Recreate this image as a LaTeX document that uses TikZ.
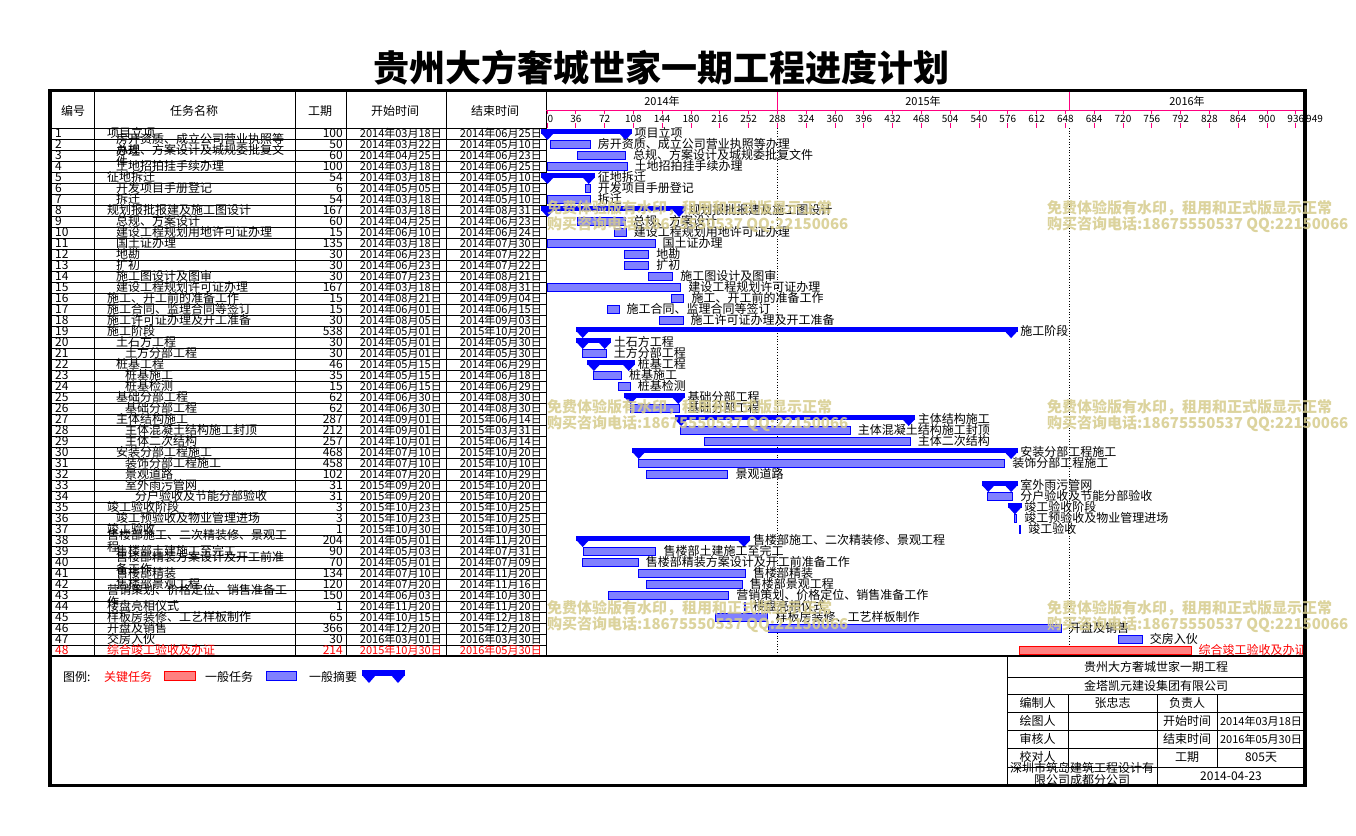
\documentclass[tikz,border=0pt]{standalone}
\usepackage{fontspec}
\setmainfont{Noto Sans CJK SC}
\definecolor{gblue}{RGB}{0,0,255}
\definecolor{gfill}{RGB}{128,128,255}
\definecolor{rfill}{RGB}{255,128,128}
\definecolor{pinkl}{RGB}{255,0,128}
\definecolor{wmark}{RGB}{214,204,140}
\tikzset{
  txt/.style={inner sep=0pt, font=\fontsize{12}{12}\selectfont},
  dtxt/.style={inner sep=0pt, font=\fontsize{11}{11}\selectfont},
  stxt/.style={inner sep=0pt, font=\fontsize{10}{10}\selectfont},
  taskbar/.style={draw=gblue, fill=gfill, line width=0.8pt},
  critbar/.style={draw=red, fill=rfill, line width=0.8pt},
  sumbar/.style={fill=gblue},
  gridline/.style={black, line width=0.7pt},
  frameline/.style={black, line width=3.5pt},
  pinkline/.style={pinkl, line width=0.8pt},
  wm/.style={text=wmark, font=\fontsize{15}{15}\selectfont\bfseries, inner sep=0pt, anchor=west, opacity=0.85},
}
\newcommand\ganttrow[9]{%
  \pgfmathsetmacro\yb{128+11*#1}%
  \pgfmathsetmacro\yt{\yb-11}%
  \pgfmathsetmacro\xs{547+0.8*#9}%
  \pgfmathsetmacro\xe{\xs+0.8*#5}%
  \def\gtype{#8}\def\gcrit{C}\def\gsum{S}%
  \ifx\gtype\gcrit\def\tcol{red}\else\def\tcol{black}\fi
  \node[txt, anchor=base west, text=\tcol] (no#1) at (55,\yb-1.5) {#1};
  \if\relax\detokenize{#4}\relax
    \node[txt, anchor=base west, text=\tcol] (nm#1) at (#2,\yb-1.5) {#3};
  \else
    \node[txt, anchor=base west, text=\tcol] (nm#1) at (#2,\yb-6.5) {#3};
    \node[txt, anchor=base west, text=\tcol] (nb#1) at (#2,\yb+5) {#4};
  \fi
  \node[txt, anchor=base east, text=\tcol] (du#1) at (343,\yb-1.5) {#5};
  \node[dtxt, anchor=base east, text=\tcol] (sd#1) at (442,\yb-1.5) {#6};
  \node[dtxt, anchor=base east, text=\tcol] (ed#1) at (542,\yb-1.5) {#7};
  \ifx\gtype\gsum
    \fill[sumbar] (\xs-6,\yt+1) rectangle (\xe+5,\yt+5.5);
    \fill[sumbar] (\xs-6,\yt+5) -- (\xs+7,\yt+5) -- (\xs+0.5,\yt+12) -- cycle;
    \fill[sumbar] (\xe-8,\yt+5) -- (\xe+5,\yt+5) -- (\xe-1.5,\yt+12) -- cycle;
  \else
    \ifx\gtype\gcrit
      \draw[critbar] (\xs,\yt+1.5) rectangle (\xe,\yb-1.5);
    \else
      \draw[taskbar] (\xs,\yt+1.5) rectangle (\xe,\yb-1.5);
    \fi
  \fi
  \node[txt, anchor=base west, text=\tcol] (lb#1) at (\xe+7.5,\yb-1.5) {#3#4};
}
\begin{document}
\begin{tikzpicture}[x=1pt,y=-1pt]
\useasboundingbox (0,0) rectangle (1356,835);
\fill[white] (0,0) rectangle (1356,835);
% title
\node[inner sep=0pt, font=\fontsize{36}{36}\selectfont\bfseries] (title) at (661,68) {贵州大方奢城世家一期工程进度计划};
% table grid
\foreach \i in {1,...,47} {\pgfmathsetmacro\ry{128+11*\i}\draw[gridline] (50,\ry) -- (546,\ry);}
\draw[gridline] (50,128) -- (546,128);
\foreach \cx in {94,295,346,446,546} {\draw[gridline] (\cx,91) -- (\cx,656);}
% header texts
\node[txt] (h1) at (73,111) {编号};
\node[txt] (h2) at (194,111) {任务名称};
\node[txt] (h3) at (320,111) {工期};
\node[txt] (h4) at (395,111) {开始时间};
\node[txt] (h5) at (495,111) {结束时间};
% gantt header
\draw[pinkline] (546,110) -- (1305,110);
\draw[pinkline] (777.4,91) -- (777.4,110);
\draw[pinkline] (1069.4,91) -- (1069.4,110);
\node[dtxt] (y1) at (662,101) {2014年};
\node[dtxt] (y2) at (923,101) {2015年};
\node[dtxt] (y3) at (1187,101) {2016年};
\foreach \k in {0,...,26} {
  \pgfmathsetmacro\tx{547+28.8*\k}
  \draw[pinkline] (\tx,110) -- (\tx,114);
  \draw[pinkline] (\tx,123) -- (\tx,128);
}
\foreach \k in {1,...,26} {
  \pgfmathsetmacro\tx{547+28.8*\k}
  \pgfmathtruncatemacro\tv{36*\k}
  \node[stxt] (sc\k) at (\tx,119) {\tv};
}
\node[stxt, anchor=west] (sc0) at (547.5,119) {0};
\node[stxt, anchor=west] (scend) at (1306,119) {949};
% year dotted lines
\draw[black, dotted, line width=0.7pt] (777.4,128) -- (777.4,656);
\draw[black, dotted, line width=0.7pt] (1069.4,128) -- (1069.4,656);
% rows
\ganttrow{1}{107}{项目立项}{}{100}{2014年03月18日}{2014年06月25日}{S}{0}
\ganttrow{2}{116}{房开资质、成立公司营业执照等}{办理}{50}{2014年03月22日}{2014年05月10日}{T}{4}
\ganttrow{3}{116}{总规、方案设计及城规委批复文}{件}{60}{2014年04月25日}{2014年06月23日}{T}{38}
\ganttrow{4}{116}{土地招拍挂手续办理}{}{100}{2014年03月18日}{2014年06月25日}{T}{0}
\ganttrow{5}{107}{征地拆迁}{}{54}{2014年03月18日}{2014年05月10日}{S}{0}
\ganttrow{6}{116}{开发项目手册登记}{}{6}{2014年05月05日}{2014年05月10日}{T}{48}
\ganttrow{7}{116}{拆迁}{}{54}{2014年03月18日}{2014年05月10日}{T}{0}
\ganttrow{8}{107}{规划报批报建及施工图设计}{}{167}{2014年03月18日}{2014年08月31日}{S}{0}
\ganttrow{9}{116}{总规、方案设计}{}{60}{2014年04月25日}{2014年06月23日}{T}{38}
\ganttrow{10}{116}{建设工程规划用地许可证办理}{}{15}{2014年06月10日}{2014年06月24日}{T}{84}
\ganttrow{11}{116}{国土证办理}{}{135}{2014年03月18日}{2014年07月30日}{T}{0}
\ganttrow{12}{116}{地勘}{}{30}{2014年06月23日}{2014年07月22日}{T}{97}
\ganttrow{13}{116}{扩初}{}{30}{2014年06月23日}{2014年07月22日}{T}{97}
\ganttrow{14}{116}{施工图设计及图审}{}{30}{2014年07月23日}{2014年08月21日}{T}{127}
\ganttrow{15}{116}{建设工程规划许可证办理}{}{167}{2014年03月18日}{2014年08月31日}{T}{0}
\ganttrow{16}{107}{施工、开工前的准备工作}{}{15}{2014年08月21日}{2014年09月04日}{T}{156}
\ganttrow{17}{107}{施工合同、监理合同等签订}{}{15}{2014年06月01日}{2014年06月15日}{T}{75}
\ganttrow{18}{107}{施工许可证办理及开工准备}{}{30}{2014年08月05日}{2014年09月03日}{T}{140}
\ganttrow{19}{107}{施工阶段}{}{538}{2014年05月01日}{2015年10月20日}{S}{44}
\ganttrow{20}{116}{土石方工程}{}{30}{2014年05月01日}{2014年05月30日}{S}{44}
\ganttrow{21}{125}{土方分部工程}{}{30}{2014年05月01日}{2014年05月30日}{T}{44}
\ganttrow{22}{116}{桩基工程}{}{46}{2014年05月15日}{2014年06月29日}{S}{58}
\ganttrow{23}{125}{桩基施工}{}{35}{2014年05月15日}{2014年06月18日}{T}{58}
\ganttrow{24}{125}{桩基检测}{}{15}{2014年06月15日}{2014年06月29日}{T}{89}
\ganttrow{25}{116}{基础分部工程}{}{62}{2014年06月30日}{2014年08月30日}{S}{104}
\ganttrow{26}{125}{基础分部工程}{}{62}{2014年06月30日}{2014年08月30日}{T}{104}
\ganttrow{27}{116}{主体结构施工}{}{287}{2014年09月01日}{2015年06月14日}{S}{167}
\ganttrow{28}{125}{主体混凝土结构施工封顶}{}{212}{2014年09月01日}{2015年03月31日}{T}{167}
\ganttrow{29}{125}{主体二次结构}{}{257}{2014年10月01日}{2015年06月14日}{T}{197}
\ganttrow{30}{116}{安装分部工程施工}{}{468}{2014年07月10日}{2015年10月20日}{S}{114}
\ganttrow{31}{125}{装饰分部工程施工}{}{458}{2014年07月10日}{2015年10月10日}{T}{114}
\ganttrow{32}{125}{景观道路}{}{102}{2014年07月20日}{2014年10月29日}{T}{124}
\ganttrow{33}{125}{室外雨污管网}{}{31}{2015年09月20日}{2015年10月20日}{S}{551}
\ganttrow{34}{135}{分户验收及节能分部验收}{}{31}{2015年09月20日}{2015年10月20日}{T}{551}
\ganttrow{35}{107}{竣工验收阶段}{}{3}{2015年10月23日}{2015年10月25日}{S}{584}
\ganttrow{36}{116}{竣工预验收及物业管理进场}{}{3}{2015年10月23日}{2015年10月25日}{T}{584}
\ganttrow{37}{107}{竣工验收}{}{1}{2015年10月30日}{2015年10月30日}{T}{591}
\ganttrow{38}{107}{售楼部施工、二次精装修、景观工}{程}{204}{2014年05月01日}{2014年11月20日}{S}{44}
\ganttrow{39}{116}{售楼部土建施工至完工}{}{90}{2014年05月03日}{2014年07月31日}{T}{46}
\ganttrow{40}{116}{售楼部精装方案设计及开工前准}{备工作}{70}{2014年05月01日}{2014年07月09日}{T}{44}
\ganttrow{41}{116}{售楼部精装}{}{134}{2014年07月10日}{2014年11月20日}{T}{114}
\ganttrow{42}{116}{售楼部景观工程}{}{120}{2014年07月20日}{2014年11月16日}{T}{124}
\ganttrow{43}{107}{营销策划、价格定位、销售准备工}{作}{150}{2014年06月03日}{2014年10月30日}{T}{77}
\ganttrow{44}{107}{楼盘亮相仪式}{}{1}{2014年11月20日}{2014年11月20日}{T}{247}
\ganttrow{45}{107}{样板房装修、工艺样板制作}{}{65}{2014年10月15日}{2014年12月18日}{T}{211}
\ganttrow{46}{107}{开盘及销售}{}{366}{2014年12月20日}{2015年12月20日}{T}{277}
\ganttrow{47}{107}{交房入伙}{}{30}{2016年03月01日}{2016年03月30日}{T}{714}
\ganttrow{48}{107}{综合竣工验收及办证}{}{214}{2015年10月30日}{2016年05月30日}{C}{591}
% bottom divider
\draw[black, line width=2.5pt] (50,656) -- (1305,656);
% legend
\node[txt, anchor=west] (lg) at (63,677) {图例:};
\node[txt, anchor=west, text=red] (lgc) at (104,677) {关键任务};
\draw[critbar] (164,671) rectangle (195,680);
\node[txt, anchor=west] (lgt) at (205,677) {一般任务};
\draw[taskbar] (266,671) rectangle (296,680);
\node[txt, anchor=west] (lgs) at (309,677) {一般摘要};
\fill[sumbar] (362,670) rectangle (405,675.5);
\fill[sumbar] (362,675) -- (376,675) -- (369,683) -- cycle;
\fill[sumbar] (391,675) -- (405,675) -- (398,683) -- cycle;
% title block
\draw[gridline] (1007,656) -- (1007,786);
\foreach \hy in {677,694,712,730,748,767} {\draw[gridline] (1007,\hy) -- (1305,\hy);}
\draw[gridline] (1068,694) -- (1068,767);
\draw[gridline] (1157,694) -- (1157,786);
\draw[gridline] (1217,694) -- (1217,767);
\node[txt] (tb1) at (1156,666.5) {贵州大方奢城世家一期工程};
\node[txt] (tb2) at (1156,685.5) {金塔凯元建设集团有限公司};
\node[txt] (tb3) at (1037.5,703) {编制人};
\node[txt] (tb4) at (1112.5,703) {张忠志};
\node[txt] (tb5) at (1187,703) {负责人};
\node[txt] (tb6) at (1037.5,721) {绘图人};
\node[txt] (tb7) at (1187,721) {开始时间};
\node[dtxt] (tb8) at (1261,721) {2014年03月18日};
\node[txt] (tb9) at (1037.5,739) {审核人};
\node[txt] (tb10) at (1187,739) {结束时间};
\node[dtxt] (tb11) at (1261,739) {2016年05月30日};
\node[txt] (tb12) at (1037.5,757) {校对人};
\node[txt] (tb13) at (1187,757) {工期};
\node[txt] (tb14) at (1261,757) {805天};
\node[txt] (tb15) at (1082,768) {深圳市筑岛建筑工程设计有};
\node[txt] (tb16) at (1082,780) {限公司成都分公司};
\node[txt] (tb17) at (1231,776) {2014-04-23};
% outer frame
\draw[frameline] (50,90.5) rectangle (1305,785.5);
% watermarks
\foreach \wx in {547,1047} {
  \foreach \wy/\wn in {208/a,407/b,608/c} {
    \node[wm] (wma\wx\wn) at (\wx,\wy) {免费体验版有水印，租用和正式版显示正常};
    \node[wm] (wmb\wx\wn) at (\wx,\wy+17) {购买咨询电话:18675550537 QQ:22150066};
  }
}
\end{tikzpicture}
\end{document}
